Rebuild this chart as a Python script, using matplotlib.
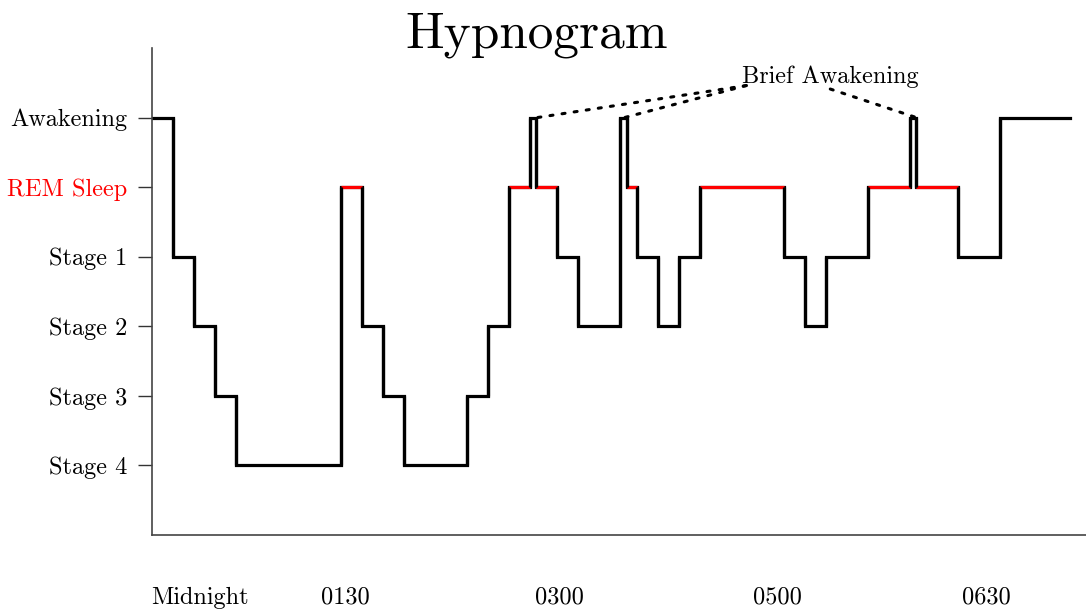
import numpy as np
import matplotlib
matplotlib.use('Agg')
import matplotlib.pyplot as plt

plt.rcParams['font.family'] = 'cmr10'
plt.rcParams['mathtext.fontset'] = 'cm'
plt.rcParams['axes.formatter.use_mathtext'] = True

# sleep stages: 6 = Awakening, 5 = REM, 4..1 = Stage 1..4
stage_names = ['Stage 4', 'Stage 3', 'Stage 2', 'Stage 1', 'REM Sleep', 'Awakening']
stage_levels = [1, 2, 3, 4, 5, 6]
stages = [6, 4, 3, 2, 1, 5, 3, 2, 1, 2, 3, 5, 6, 5, 4, 3, 6, 5, 4, 3, 4, 5, 4, 3, 4, 5, 6, 5, 4, 6]
durations = [1, 1, 1, 1, 5, 1, 1, 1, 3, 1, 1, 1, 0.3, 1, 1, 2, 0.3, 0.5, 1, 1, 1, 4, 1, 1, 2, 2, 0.3, 2, 2, 3.3]

time_ticks = [2.29, 9.2, 19.4, 29.8, 39.75]
time_labels = ['Midnight', '0130', '0300', '0500', '0630']

edges = np.concatenate([[0], np.cumsum(durations)])
yvals = stages + [stages[-1]]

fig = plt.figure(figsize=(10.86, 6.12), dpi=100)
ax = fig.add_axes([0.14, 0.1258, 0.86, 0.7958])

lw = 2.3
ax.step(edges, yvals, where='post', color='black', lw=lw, solid_joinstyle='miter', zorder=2)

# REM segments in red
for i, s in enumerate(stages):
    if s == 5:
        ax.hlines(5, edges[i], edges[i + 1], color='red', lw=lw, zorder=3)

# redraw the transitions on top
for i in range(1, len(stages)):
    ax.vlines(edges[i], min(stages[i - 1], stages[i]), max(stages[i - 1], stages[i]),
              color='black', lw=lw, zorder=4)

# brief awakening notes
ax.text(32.3, 6.58, 'Brief Awakening', ha='center', va='center', fontsize=17.5)
dots = dict(arrowstyle='-', linestyle=(0, (1, 3)), lw=2.2, color='black', shrinkA=0, shrinkB=0)
ax.annotate('', xy=(18.35, 6.0), xytext=(28.3, 6.46), arrowprops=dots)
ax.annotate('', xy=(22.5, 6.0), xytext=(28.3, 6.46), arrowprops=dots)
ax.annotate('', xy=(36.4, 6.0), xytext=(32.3, 6.41), arrowprops=dots)

ax.set_xlim(0, 44.48)
ax.set_ylim(0, 7)
ax.set_yticks(stage_levels)
ax.set_yticklabels(stage_names, fontsize=17.5)
ax.get_yticklabels()[4].set_color('red')
ax.set_xticks(time_ticks)
ax.set_xticklabels(time_labels, fontsize=17.5)
ax.tick_params(axis='y', length=10, width=1, pad=8, color='#333333')
ax.tick_params(axis='x', length=0, pad=37)

for side in ['top', 'right']:
    ax.spines[side].set_visible(False)
for side in ['left', 'bottom']:
    ax.spines[side].set_linewidth(1.2)
    ax.spines[side].set_color('#444444')

fig.text(0.494, 0.9216, 'Hypnogram', ha='center', va='baseline', fontsize=37)

fig.savefig('out.png', dpi=100)
